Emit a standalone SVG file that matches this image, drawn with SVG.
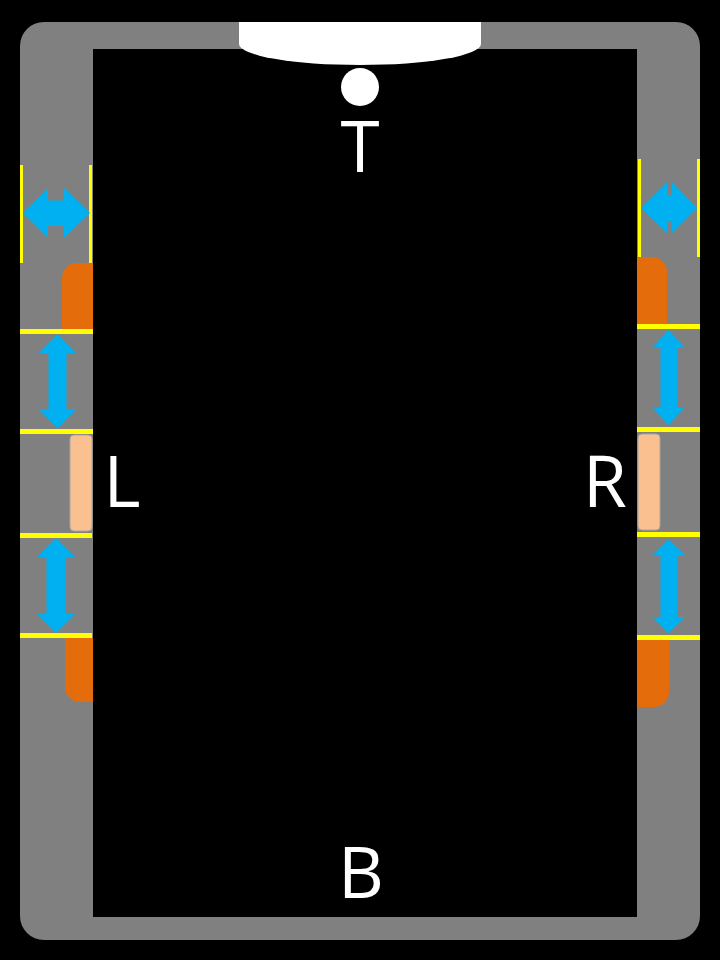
<svg xmlns="http://www.w3.org/2000/svg" width="720" height="960" viewBox="0 0 720 960">
<style>
.yl{fill:#FFFF00}
.ar{fill:#00B0F0}
.or{fill:#E46C0A}
.pe{fill:#FAC090;stroke:#A6A6A6;stroke-width:1}
.lb{fill:#FFFFFF;font-family:"Open Sans","DejaVu Sans",sans-serif;font-size:71px;text-anchor:middle}
</style>
<rect x="0" y="0" width="720" height="960" fill="#000000"/>
<g id="frame">
<rect x="20" y="22" width="680" height="918" rx="24" ry="24" fill="#808080"/>
</g>
<g id="orange-pads">
<path class="or" d="M62,329 V278 A15,15 0 0 1 77,263 H93 V329 Z"/>
<path class="or" d="M65,638 V687 A15,15 0 0 0 80,702 H93 V638 Z"/>
<path class="or" d="M667,324 V272 A15,15 0 0 0 652,257 H637 V324 Z"/>
<path class="or" d="M669,640 V692 A15,15 0 0 1 654,707 H637 V640 Z"/>
</g>
<g id="screen">
<rect x="93" y="49" width="544" height="868" fill="#000000"/>
</g>
<g id="notch">
<path d="M239,22 H481 V44 A121,21 0 0 1 239,44 Z" fill="#FFFFFF"/>
<circle cx="360" cy="87" r="19" fill="#FFFFFF"/>
</g>
<g id="left-panel">
<rect class="yl" x="20" y="165" width="3" height="98"/>
<rect class="yl" x="89" y="165" width="3" height="98"/>
<polygon class="ar" points="23,213 48,188 48,200.5 64,200.5 64,188 90,213 64,238 64,226 48,226 48,238"/>
<rect class="yl" x="20" y="329" width="73" height="5"/>
<polygon class="ar" points="57.5,334 76.5,353 66.5,353 66.5,409 76.5,409 57.5,428.5 38.5,409 48.5,409 48.5,353 38.5,353"/>
<rect class="yl" x="20" y="429" width="73" height="5"/>
<rect class="pe" x="70" y="435" width="22" height="96" rx="4"/>
<rect class="yl" x="20" y="533" width="72" height="5"/>
<polygon class="ar" points="56,538 75,557 65.5,557 65.5,614 75,614 56,633 37,614 46.5,614 46.5,557 37,557"/>
<rect class="yl" x="20" y="633" width="72" height="5"/>
</g>
<g id="right-panel">
<rect class="yl" x="638" y="159" width="3" height="98"/>
<rect class="yl" x="697" y="159" width="3" height="98"/>
<polygon class="ar" points="641,208 667,182 667,195 672,195 672,182 697,208 672,233 672,221 667,221 667,233"/>
<rect class="yl" x="637" y="324" width="63" height="5"/>
<polygon class="ar" points="668.5,330 684.5,347 677.5,347 677.5,408 684.5,408 668.5,425 652.5,408 660.5,408 660.5,347 652.5,347"/>
<rect class="yl" x="637" y="427" width="63" height="5"/>
<rect class="pe" x="638" y="434" width="22" height="96" rx="4"/>
<rect class="yl" x="637" y="532" width="63" height="5"/>
<polygon class="ar" points="668.5,539 685,555 677.5,555 677.5,617 685,617 668.5,633 652.5,617 660.5,617 660.5,555 652.5,555"/>
<rect class="yl" x="637" y="635" width="63" height="5"/>
</g>
<g id="labels">
<text class="lb" x="360" y="172">T</text>
<text class="lb" x="122" y="507">L</text>
<text class="lb" x="605" y="507">R</text>
<text class="lb" x="361" y="898">B</text>
</g>
</svg>
